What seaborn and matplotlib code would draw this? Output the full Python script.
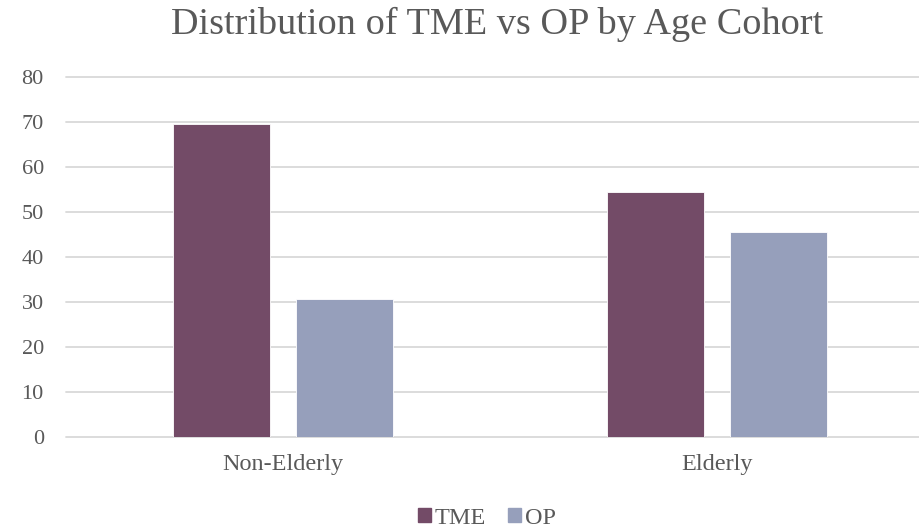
import matplotlib
matplotlib.use("Agg")
import matplotlib.pyplot as plt
import seaborn as sns
import pandas as pd

# Share of spending by age cohort
cohorts = ["Non-Elderly", "Elderly"]
series = ["TME", "OP"]
tme_values = [69.4, 54.5]
op_values = [30.6, 45.5]
y_ticks = [0, 10, 20, 30, 40, 50, 60, 70, 80]

colors = {"TME": "#734B67", "OP": "#969FBB"}
text_color = "#595959"
grid_color = "#D9D9D9"

df = pd.DataFrame({
    "Cohort": cohorts * 2,
    "Series": ["TME"] * len(cohorts) + ["OP"] * len(cohorts),
    "Value": tme_values + op_values,
})

sns.set_theme(style="white")
plt.rcParams["font.family"] = ["Liberation Serif", "DejaVu Serif"]

fig = plt.figure(figsize=(9.2, 5.32), dpi=100)
ax = fig.add_axes([66 / 920, 95 / 532, (920 - 66) / 920, (437 - 76.7) / 532])

sns.barplot(data=df, x="Cohort", y="Value", hue="Series", hue_order=series,
            order=cohorts, palette=colors, saturation=1, width=0.567, gap=0.211,
            edgecolor="white", linewidth=0.6, ax=ax, legend=False, zorder=3)

ax.set_xlim(-0.5, 1.4677)
ax.set_ylim(0, 80)
ax.set_yticks(y_ticks)
ax.set_yticklabels([str(t) for t in y_ticks])
ax.yaxis.grid(True, color=grid_color, linewidth=1.3, zorder=0)
ax.set_axisbelow(True)
for s in ax.spines.values():
    s.set_visible(False)
for line in ax.get_ygridlines():
    line.set_clip_on(False)

ax.tick_params(axis="y", length=0, pad=16, labelsize=16, labelcolor=text_color)
ax.tick_params(axis="x", length=0, pad=12, labelsize=17.5, labelcolor=text_color)
ax.set_xlabel("")
ax.set_ylabel("")

fig.text(497 / 920, 1 - 24 / 532, "Distribution of TME vs OP by Age Cohort",
         ha="center", va="center", fontsize=27.5, color=text_color)

handles = [plt.Rectangle((0, 0), 1, 1, color=colors[s]) for s in series]
fig.legend(handles, series, loc="center", bbox_to_anchor=(487 / 920, 1 - 518 / 532),
           ncol=2, frameon=False, fontsize=17.5, labelcolor=text_color,
           handlelength=0.55, handleheight=0.55, handletextpad=0.15,
           columnspacing=0.9)

fig.savefig("out.png", dpi=100, facecolor="white")
